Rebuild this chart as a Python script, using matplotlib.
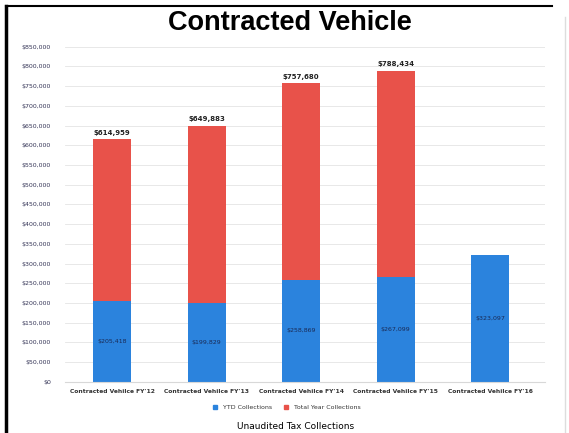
import matplotlib.pyplot as plt
from matplotlib.lines import Line2D
from matplotlib.ticker import FuncFormatter

# data
categories = ["Contracted Vehilce FY'12", "Contracted Vehilce FY'13", "Contracted Vehilce FY'14",
              "Contracted Vehilce FY'15", "Contracted Vehilce FY'16"]
ytd = [205418, 199829, 258869, 267099, 323097]
total = [614959, 649883, 757680, 788434, None]
ytd_labels = ["$205,418", "$199,829", "$258,869", "$267,099", "$323,097"]
total_labels = ["$614,959", "$649,883", "$757,680", "$788,434", ""]

red = '#e8524a'
blue = '#2b83dd'

fig = plt.figure(figsize=(5.69, 4.33), dpi=100)
ax = fig.add_axes([0.114, 0.118, 0.844, 0.774])

x = list(range(len(categories)))
w = 0.4
for i in x:
    if total[i] is not None:
        ax.bar(i, total[i] - ytd[i], w, bottom=ytd[i], color=red, zorder=2)
        ax.text(i, total[i] + 9000, total_labels[i], ha='center', va='bottom',
                fontsize=5, fontweight='bold', color='#222222')
ax.bar(x, ytd, w, color=blue, zorder=2)
for i in x:
    ax.text(i, ytd[i] / 2, ytd_labels[i], ha='center', va='center',
            fontsize=4.5, color='#1a2a55')

ax.set_ylim(0, 850000)
ax.set_xlim(-0.5, 4.58)
ax.set_yticks(range(0, 850001, 50000))
ax.yaxis.set_major_formatter(FuncFormatter(lambda v, p: '${:,.0f}'.format(v)))
ax.set_xticks(x)
ax.set_xticklabels(categories, fontsize=4.3, fontweight='bold', color='#333333',
                   family='Liberation Sans Narrow')
ax.tick_params(axis='y', labelsize=4.5, labelcolor='#333355', length=0, pad=10)
ax.tick_params(axis='x', length=0, pad=5)
ax.grid(axis='y', color='#e4e4e4', linewidth=0.6, zorder=0)
for s in ['top', 'right', 'left']:
    ax.spines[s].set_visible(False)
ax.spines['bottom'].set_color('#d8d8d8')

handles = [Line2D([], [], marker='s', color=blue, linestyle='', markersize=2.5),
           Line2D([], [], marker='s', color=red, linestyle='', markersize=2.5)]
fig.legend(handles, ['YTD Collections', 'Total Year Collections'], loc='center',
           bbox_to_anchor=(0.5, 0.06), ncol=2, frameon=False, fontsize=4.5,
           handletextpad=0.3, columnspacing=1.2, labelcolor='#333333')

fig.text(0.51, 0.948, 'Contracted Vehicle', ha='center', va='center', fontsize=19.5,
         fontweight='bold', family='Liberation Sans')
fig.text(0.52, 0.014, 'Unaudited Tax Collections', ha='center', va='center', fontsize=6.5)

# page border
fig.add_artist(Line2D([0.011, 0.011], [0, 0.985], color='black', linewidth=2.5))
fig.add_artist(Line2D([0.011, 0.97], [0.985, 0.985], color='black', linewidth=1.5))
fig.add_artist(Line2D([0.993, 0.993], [0, 0.96], color='#dddddd', linewidth=1))

fig.savefig('out.png', dpi=100)
